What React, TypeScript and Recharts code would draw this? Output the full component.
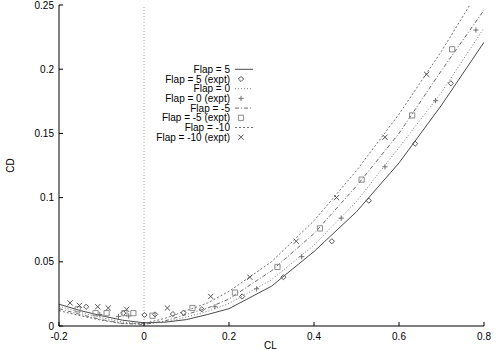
import React from 'react';
import { ComposedChart, Line, Scatter, XAxis, YAxis, ReferenceLine, Legend } from 'recharts';

// ---- Data ----
const clGrid = [-0.2, -0.15, -0.1, -0.05, 0, 0.05, 0.1, 0.15, 0.2, 0.3, 0.4, 0.5, 0.6, 0.7, 0.8];
const cdFlap5 = [0.017, 0.012, 0.008, 0.0045, 0.0025, 0.003, 0.005, 0.009, 0.0135, 0.031, 0.058, 0.089, 0.127, 0.172, 0.221];
const cdFlap0 = [0.0155, 0.0105, 0.0065, 0.003, 0.0015, 0.003, 0.007, 0.0115, 0.0175, 0.036, 0.063, 0.097, 0.139, 0.182, 0.232];
const cdFlapM5 = [0.0135, 0.009, 0.005, 0.002, 0.0012, 0.004, 0.009, 0.014, 0.021, 0.043, 0.072, 0.109, 0.15, 0.199, 0.246];
const cdFlapM10 = [0.012, 0.008, 0.0045, 0.0018, 0.002, 0.006, 0.012, 0.018, 0.027, 0.05, 0.082, 0.121, 0.165, 0.214, 0.268];

const clExpt5 = [-0.136, -0.049, 0.001, 0.026, 0.068, 0.093, 0.136, 0.231, 0.328, 0.442, 0.529, 0.638, 0.722];
const cdExpt5 = [0.015, 0.01, 0.0086, 0.009, 0.0093, 0.0104, 0.013, 0.023, 0.038, 0.066, 0.0976, 0.142, 0.189];
const clExpt0 = [-0.104, -0.06, -0.036, 0.167, 0.265, 0.371, 0.464, 0.567, 0.686, 0.781];
const cdExpt0 = [0.009, 0.0075, 0.0078, 0.015, 0.029, 0.054, 0.084, 0.124, 0.1755, 0.2305];
const clExptM5 = [-0.156, -0.114, -0.088, -0.046, -0.025, 0.02, 0.114, 0.214, 0.314, 0.414, 0.512, 0.631, 0.725];
const cdExptM5 = [0.013, 0.01, 0.01, 0.01, 0.01, 0.008, 0.014, 0.026, 0.046, 0.076, 0.114, 0.164, 0.2155];
const clExptM10 = [-0.174, -0.152, -0.109, -0.084, -0.041, 0.055, 0.157, 0.249, 0.358, 0.453, 0.567, 0.665];
const cdExptM10 = [0.018, 0.016, 0.015, 0.014, 0.013, 0.014, 0.023, 0.038, 0.066, 0.1, 0.147, 0.196];

const xTicks = [-0.2, 0, 0.2, 0.4, 0.6, 0.8];
const yTicks = [0, 0.05, 0.1, 0.15, 0.2, 0.25];

const legendLabels = [
  'Flap = 5', 'Flap = 5 (expt)', 'Flap = 0', 'Flap = 0 (expt)',
  'Flap = -5', 'Flap = -5 (expt)', 'Flap = -10', 'Flap = -10 (expt)',
];

const pts = (xs: number[], ys: number[]) => xs.map((x, i) => ({ cl: x, cd: ys[i] }));

const FONT = "'Liberation Sans', Arial, Helvetica, sans-serif";

const C_SOLID = '#4a4a4a';
const C_DOT0 = '#7a7a7a';
const C_DASHM5 = '#6a6a6a';
const C_DOTM10 = '#707070';
const C_DIAMOND = '#555555';
const C_PLUS = '#707070';
const C_SQUARE = '#8c8c8c';
const C_CROSS = '#555555';

const DASH0 = '1 2';
const DASHM5 = '4 2 1 2';
const DASHM10 = '2 2';

const R = 2.6;

const diamondPath = (cx: number, cy: number) => `M${cx},${cy - R}L${cx + R},${cy}L${cx},${cy + R}L${cx - R},${cy}Z`;
const plusPath = (cx: number, cy: number) => `M${cx - R},${cy}H${cx + R}M${cx},${cy - R}V${cy + R}`;
const squarePath = (cx: number, cy: number) => `M${cx - R},${cy - R}H${cx + R}V${cy + R}H${cx - R}Z`;
const crossPath = (cx: number, cy: number) => `M${cx - R},${cy - R}L${cx + R},${cy + R}M${cx - R},${cy + R}L${cx + R},${cy - R}`;

const mk = (fn: (x: number, y: number) => string, color: string) => (p: any) => {
  const { cx, cy } = p;
  if (cx == null || cy == null) return <g />;
  return <path d={fn(cx, cy)} fill="none" stroke={color} strokeWidth={1} />;
};

const renderLegend = () => {
  const rowH = 9.7;
  const textX = 100;
  const s0 = 105;
  const s1 = 123;
  const mx = 111;
  const items: any[] = [
    { kind: 'line', color: C_SOLID, dash: undefined },
    { kind: 'pt', fn: diamondPath, color: C_DIAMOND },
    { kind: 'line', color: C_DOT0, dash: DASH0 },
    { kind: 'pt', fn: plusPath, color: C_PLUS },
    { kind: 'line', color: C_DASHM5, dash: DASHM5 },
    { kind: 'pt', fn: squarePath, color: C_SQUARE },
    { kind: 'line', color: C_DOTM10, dash: DASHM10 },
    { kind: 'pt', fn: crossPath, color: C_CROSS },
  ];
  return (
    <svg width={130} height={85} style={{ display: 'block' }}>
      {legendLabels.map((lab, i) => {
        const y = 7.3 + i * rowH;
        const it = items[i];
        return (
          <g key={lab}>
            <text x={textX} y={y + 3.5} textAnchor="end" fontFamily={FONT} fontSize={10} fill="#000">{lab}</text>
            {it.kind === 'line' ? (
              <line x1={s0} x2={s1} y1={y} y2={y} stroke={it.color} strokeWidth={1} strokeDasharray={it.dash} />
            ) : (
              <path d={it.fn(mx, y)} fill="none" stroke={it.color} strokeWidth={1} />
            )}
          </g>
        );
      })}
    </svg>
  );
};

const tickStyle = { fontFamily: FONT, fontSize: 10, fill: '#000' };

export default function App() {
  return (
    <div style={{ position: 'absolute', left: 0, top: 0, width: 501, height: 351, background: '#fff' }}>
      <ComposedChart width={501} height={351} margin={{ top: 5, right: 17, left: 0, bottom: 0 }}>
        <XAxis
          xAxisId="b"
          dataKey="cl"
          type="number"
          domain={[-0.2, 0.8]}
          ticks={xTicks}
          allowDataOverflow
          height={25}
          stroke="#000"
          tickSize={-4}
          tickMargin={11}
          tick={tickStyle}
          interval={0}
          label={(p: any) => {
            const vb = p.viewBox;
            return (
              <text x={vb.x + vb.width / 2 - 1} y={vb.y + 23} textAnchor="middle" fontFamily={FONT} fontSize={10} fill="#000">CL</text>
            );
          }}
        />
        <XAxis
          xAxisId="t"
          orientation="top"
          type="number"
          domain={[-0.2, 0.8]}
          ticks={xTicks}
          allowDataOverflow
          height={0}
          stroke="#000"
          tickSize={-4}
          tickFormatter={() => ''}
          interval={0}
        />
        <YAxis
          yAxisId="l"
          dataKey="cd"
          type="number"
          domain={[0, 0.25]}
          ticks={yTicks}
          allowDataOverflow
          width={59}
          stroke="#000"
          tickSize={-4}
          tickMargin={9}
          tick={tickStyle}
          interval={0}
          label={(p: any) => {
            const vb = p.viewBox;
            const cy = vb.y + vb.height / 2;
            return (
              <text x={14} y={cy} transform={`rotate(-90, 14, ${cy})`} textAnchor="middle" fontFamily={FONT} fontSize={10} fill="#000">CD</text>
            );
          }}
        />
        <YAxis
          yAxisId="r"
          orientation="right"
          type="number"
          domain={[0, 0.25]}
          ticks={yTicks}
          allowDataOverflow
          width={0}
          stroke="#000"
          tickSize={-4}
          tickFormatter={() => ''}
          interval={0}
        />
        <ReferenceLine xAxisId="b" yAxisId="l" x={0} stroke="#a0a0a0" strokeDasharray="1 2" />
        <Line xAxisId="b" yAxisId="l" data={pts(clGrid, cdFlap5)} dataKey="cd" type="linear" stroke={C_SOLID} strokeWidth={1} dot={false} isAnimationActive={false} />
        <Scatter xAxisId="b" yAxisId="l" data={pts(clExpt5, cdExpt5)} dataKey="cd" shape={mk(diamondPath, C_DIAMOND)} isAnimationActive={false} />
        <Line xAxisId="b" yAxisId="l" data={pts(clGrid, cdFlap0)} dataKey="cd" type="linear" stroke={C_DOT0} strokeDasharray={DASH0} strokeWidth={1} dot={false} isAnimationActive={false} />
        <Scatter xAxisId="b" yAxisId="l" data={pts(clExpt0, cdExpt0)} dataKey="cd" shape={mk(plusPath, C_PLUS)} isAnimationActive={false} />
        <Line xAxisId="b" yAxisId="l" data={pts(clGrid, cdFlapM5)} dataKey="cd" type="linear" stroke={C_DASHM5} strokeDasharray={DASHM5} strokeWidth={1} dot={false} isAnimationActive={false} />
        <Scatter xAxisId="b" yAxisId="l" data={pts(clExptM5, cdExptM5)} dataKey="cd" shape={mk(squarePath, C_SQUARE)} isAnimationActive={false} />
        <Line xAxisId="b" yAxisId="l" data={pts(clGrid, cdFlapM10)} dataKey="cd" type="linear" stroke={C_DOTM10} strokeDasharray={DASHM10} strokeWidth={1} dot={false} isAnimationActive={false} />
        <Scatter xAxisId="b" yAxisId="l" data={pts(clExptM10, cdExptM10)} dataKey="cd" shape={mk(crossPath, C_CROSS)} isAnimationActive={false} />
        <Legend
          layout="vertical"
          align="center"
          verticalAlign="middle"
          content={renderLegend}
          wrapperStyle={{ position: 'absolute', left: 130, top: 62, width: 130, height: 85 }}
        />
      </ComposedChart>
    </div>
  );
}
